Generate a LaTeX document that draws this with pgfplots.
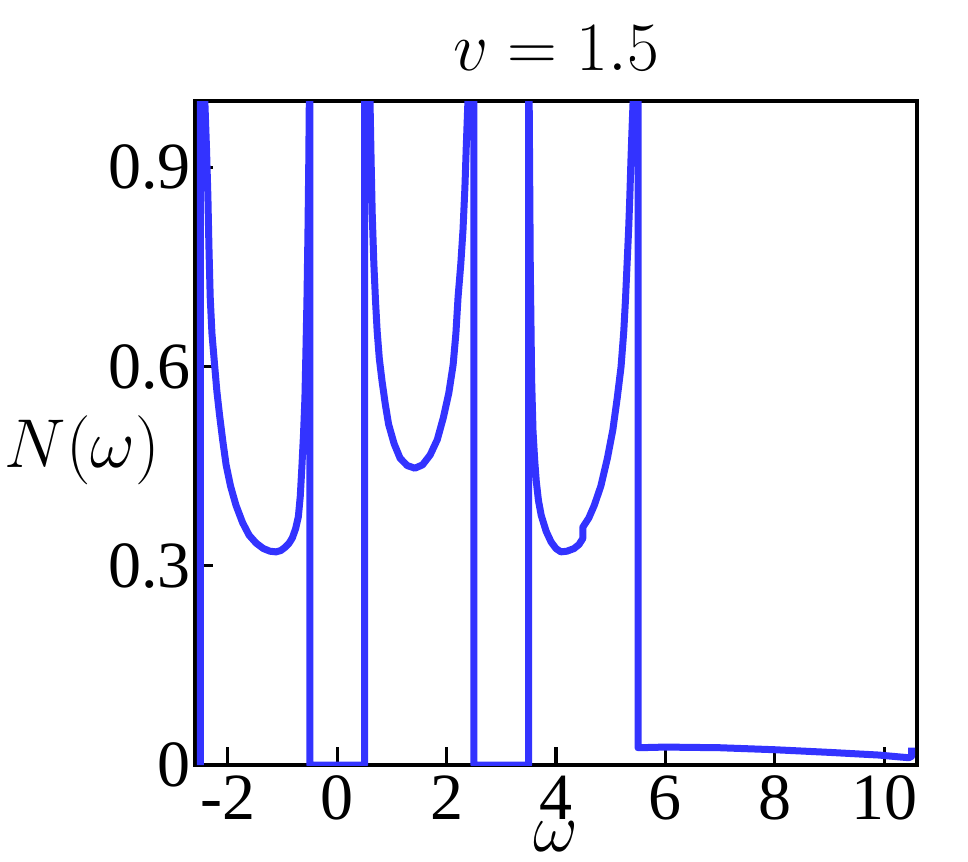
\documentclass[border=0pt]{standalone}
\usepackage{fontspec}
\setmainfont{Liberation Serif}
\usepackage{pgfplots}
\pgfplotsset{compat=1.18}
\definecolor{dosblue}{RGB}{51,51,255}

\begin{document}
\begin{tikzpicture}
\path[use as bounding box] (-48.75pt,-24pt) rectangle (193.25pt,191.25pt);
\begin{axis}[
    scale only axis,
    width=180.5pt,
    height=166pt,
    xmin=-2.6, xmax=10.6,
    ymin=0, ymax=1,
    xtick={-2,0,2,4,6,8,10},
    xticklabels={-2,0,2,4,6,8,10},
    ytick={0,0.3,0.6,0.9},
    yticklabels={0,0.3,0.6,0.9},
    tick align=inside,
    xtick pos=bottom,
    ytick pos=left,
    major tick length=4.5pt,
    tick style={line width=0.8pt, black},
    axis line style={line width=1pt},
    tick label style={font=\fontsize{16.5}{18}\selectfont},
    xticklabel style={inner sep=0pt, yshift=-2.5pt},
    yticklabel style={xshift=2.5pt},
    title={$v=1.5$},
    title style={at={(axis description cs:0.5,1)}, anchor=south, inner sep=0pt, yshift=1.5pt, font=\fontsize{16}{18}\selectfont},
    xlabel={$\omega$},
    every axis x label/.style={at={(axis description cs:0.5,0)}, anchor=center, inner sep=0pt, yshift=-18pt, font=\fontsize{17.5}{20}\selectfont},
    ylabel={$N(\omega)$},
    every axis y label/.style={at={(axis description cs:-0.156,0.474)}, anchor=center, font=\fontsize{17.5}{20}\selectfont},
]
% N(omega): three bands with gaps, then a small tail above omega = 5.5
\addplot[color=dosblue, line width=1.75pt, line join=round] coordinates {
    (-2.5,0) (-2.5,1.5) (-2.42,1.0) (-2.39,0.93) (-2.364,0.856) (-2.345,0.78)
    (-2.322,0.705) (-2.29,0.65) (-2.242,0.603) (-2.20,0.563) (-2.151,0.527)
    (-2.09,0.487) (-2.031,0.452) (-1.95,0.42) (-1.85,0.391) (-1.73,0.365)
    (-1.61,0.346) (-1.48,0.334) (-1.35,0.326) (-1.23,0.322) (-1.12,0.321)
    (-1.03,0.323) (-0.95,0.328) (-0.88,0.334) (-0.82,0.342) (-0.76,0.356)
    (-0.71,0.374) (-0.675,0.405) (-0.645,0.45) (-0.615,0.50) (-0.59,0.553)
    (-0.57,0.63) (-0.552,0.705) (-0.535,0.80) (-0.52,0.906) (-0.51,1.0)
    (-0.5,1.5) (-0.5,0) (0.5,0) (0.5,1.5)
    (0.6,1.0) (0.62,0.91) (0.64,0.831) (0.67,0.755) (0.70,0.70) (0.73,0.654)
    (0.77,0.612) (0.82,0.578) (0.88,0.543) (0.94,0.513) (1.04,0.484)
    (1.15,0.462) (1.28,0.451) (1.42,0.447) (1.56,0.452) (1.70,0.467)
    (1.83,0.49) (1.94,0.523) (2.04,0.56) (2.12,0.603) (2.17,0.65) (2.21,0.705)
    (2.26,0.755) (2.30,0.806) (2.335,0.87) (2.36,0.932) (2.39,1.0)
    (2.5,1.5) (2.5,0) (3.5,0) (3.5,1.5)
    (3.51,1.0) (3.53,0.75) (3.555,0.58) (3.58,0.503) (3.61,0.46) (3.64,0.427)
    (3.68,0.398) (3.73,0.376) (3.82,0.352) (3.91,0.336) (4.0,0.326)
    (4.09,0.321) (4.2,0.322) (4.33,0.326) (4.42,0.332) (4.49,0.341)
    (4.49,0.358) (4.60,0.372) (4.70,0.391) (4.82,0.42) (4.94,0.462)
    (5.04,0.505) (5.12,0.553) (5.19,0.60) (5.24,0.654) (5.27,0.70)
    (5.30,0.755) (5.33,0.81) (5.35,0.856) (5.37,0.91) (5.39,0.957) (5.41,1.0)
    (5.5,1.5) (5.5,0.026)
    (6,0.027) (7,0.026) (8,0.023) (9,0.019) (9.9,0.015) (10.3,0.012)
    (10.45,0.011) (10.5,0.013) (10.5,0.026)
};
\end{axis}
\end{tikzpicture}
\end{document}
